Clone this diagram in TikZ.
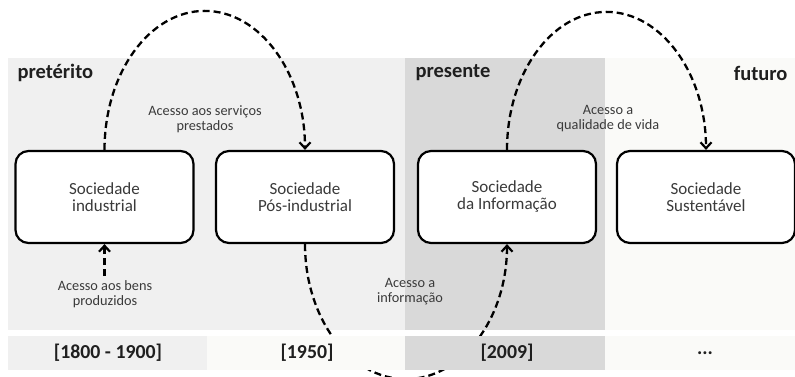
\documentclass[tikz,border=0pt]{standalone}
\usepackage{fontspec}
\setmainfont{Carlito}
\usetikzlibrary{arrows.meta}
\definecolor{pastgray}{HTML}{F0F0F0}
\definecolor{nowgray}{HTML}{D9D9D9}
\definecolor{futwhite}{HTML}{FAFAF8}
\definecolor{txtgray}{HTML}{3A3A3A}
\tikzset{
  box/.style={draw=black, line width=2.2pt, fill=white, rounded corners=13pt,
    minimum width=178pt, minimum height=92pt, align=center, text=txtgray,
    font=\fontsize{17}{17}\selectfont},
  conn/.style={draw=black, line width=2.3pt, dash pattern=on 7pt off 4pt,
    -{Straight Barb[length=6pt,width=11pt,line width=2.2pt]}},
  note/.style={align=center, text=txtgray, font=\fontsize{14.3}{15}\selectfont},
  era/.style={font=\bfseries\fontsize{20.5}{22}\selectfont, text=black!88},
  year/.style={font=\bfseries\fontsize{19.8}{22}\selectfont, text=black!88}
}
\begin{document}
\begin{tikzpicture}[x=1pt,y=-1pt]
\useasboundingbox (0,0) rectangle (795,377);
% era panels
\fill[pastgray] (8,58) rectangle (405,330);
\fill[nowgray]  (405,58) rectangle (605,330);
\fill[futwhite] (605,58) rectangle (795,330);
\node[era, anchor=west] (pret) at (14,73) {pretérito};
\node[era, anchor=west] (pres) at (412,73) {presente};
\node[era, anchor=east] (fut)  at (791,73) {futuro};

% society boxes
\node[box] (b1) at (104.5,197) {Sociedade\\industrial};
\node[box] (b2) at (305,197) {Sociedade\\Pós-industrial};
\node[box] (b3) at (507,197) {Sociedade\\da Informação};
\node[box] (b4) at (706,197) {Sociedade\\Sustentável};

% connectors
\draw[conn] (b1.north) arc[start angle=180, end angle=360, x radius=100.25, y radius=139];
\draw[conn] (b3.north) arc[start angle=180, end angle=360, x radius=99.5, y radius=138];
\draw[conn] (b2.south) arc[start angle=180, end angle=0, x radius=101, y radius=135];
\coordinate (bens) at (104.5,276);
\draw[conn] (bens) -- (b1.south);

% time bar
\fill[pastgray] (8,336) rectangle (207,370);
\fill[futwhite] (207,336) rectangle (405,370);
\fill[nowgray]  (405,336) rectangle (605,370);
\fill[futwhite] (605,336) rectangle (795,370);
\node[year] (y1) at (108,353) {[1800 - 1900]};
\node[year] (y2) at (307,353) {[1950]};
\node[year] (y3) at (507,353) {[2009]};
\node[year] (y4) at (705,353) {...};

% labels
\node[note] (l1) at (205,119) {Acesso aos serviços\\prestados};
\node[note] (l2) at (608,119) {Acesso a\\qualidade de vida};
\node[note] (l3) at (105,294) {Acesso aos bens\\produzidos};
\node[note] (l4) at (410,292) {Acesso a\\informação};
\end{tikzpicture}
\end{document}
